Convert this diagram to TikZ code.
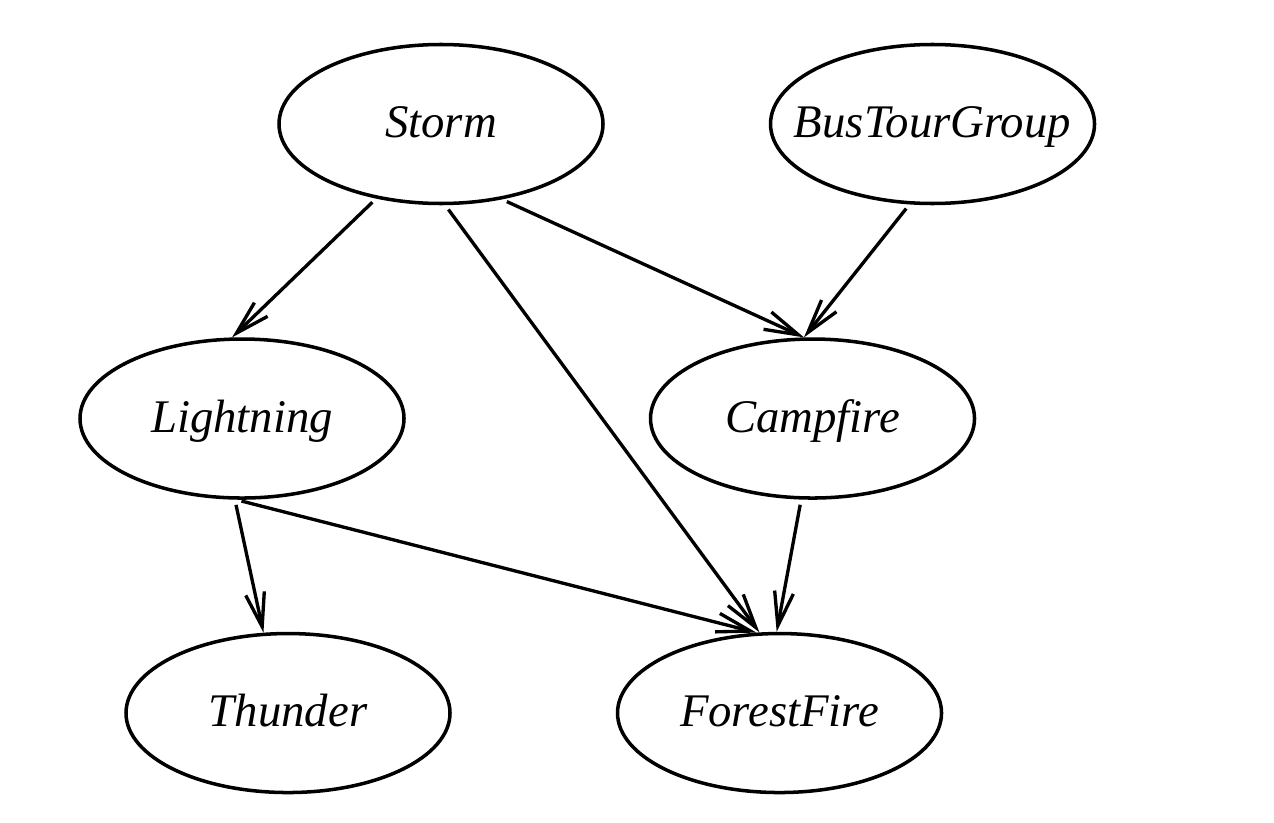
\documentclass[tikz,border=0pt]{standalone}
\usepackage{fontspec}
\setmainfont{Liberation Serif}
\usetikzlibrary{positioning,arrows.meta,shapes.geometric}
\tikzset{
  nod/.style     = {draw, ellipse, line width=1pt, minimum width=32.4mm,
                    minimum height=15.9mm, inner xsep=-5mm, inner ysep=0pt,
                    text height=1.03em, text depth=0.24em,
                    font=\fontsize{13.3}{16}\selectfont\itshape},
  sageata/.style = {-{Straight Barb[length=3.4mm, width=1.9mm]}, line width=0.95pt,
                    shorten <=1.5pt}
}
\begin{document}
\begin{tikzpicture}[node distance=13.2mm and 16.4mm]
        \useasboundingbox (0,0) rectangle (12.74,8.22);
        \node[nod] (storm) at (4.41,6.98) {Storm};
        \node[nod, right=of storm] (bus) {BusTourGroup};
        \node[nod, below=of storm, xshift=-19.9mm] (lightning) {Lightning};
        \node[nod, below=of bus, xshift=-12mm] (campfire) {Campfire};
        \node[nod, below=of lightning, xshift=4.6mm] (thunder) {Thunder};
        \node[nod, below=of campfire, xshift=-3.3mm] (forest) {ForestFire};

        \draw[sageata] (storm.229) -- (lightning.97);
        \draw[sageata] (storm.273) -- (forest.104);
        \draw[sageata] (storm.309) -- (campfire.96);
        \draw[sageata] (bus.254) -- (campfire.96);
        \draw[sageata] (lightning.265) -- (thunder.107);
        \draw[sageata] (lightning.266) -- (forest.106);
        \draw[sageata] (campfire.262) -- (forest.92);
    \end{tikzpicture}
\end{document}
